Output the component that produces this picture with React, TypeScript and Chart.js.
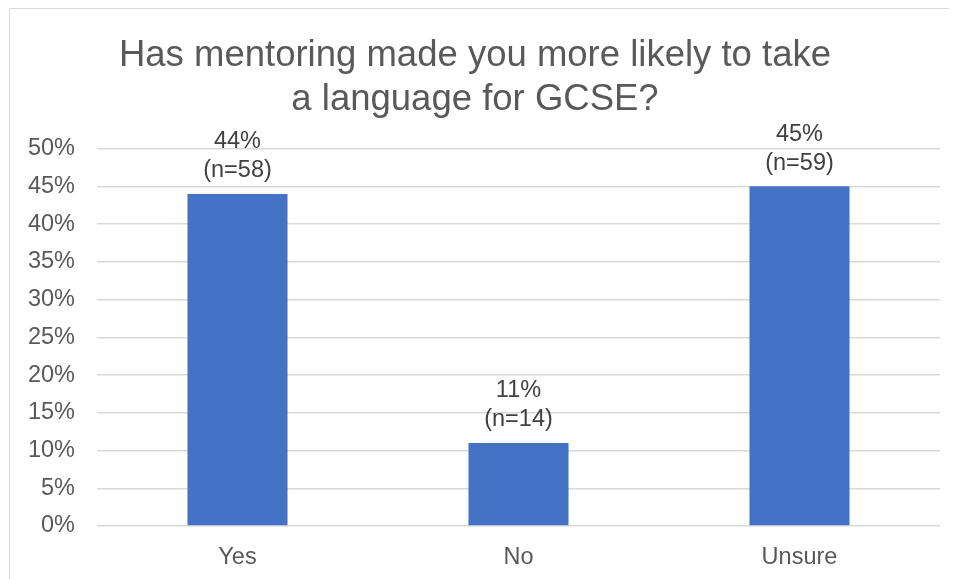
import React, { useEffect, useRef } from "react";
import { Chart, registerables } from "chart.js";

Chart.register(...registerables);

const categories = ["Yes", "No", "Unsure"];
const percentages = [44, 11, 45];
const counts = [58, 14, 59];
const yTicks = [0, 5, 10, 15, 20, 25, 30, 35, 40, 45, 50];
const titleLines = ["Has mentoring made you more likely to take", "a language for GCSE?"];

const FONT = "'Liberation Sans', Arial, sans-serif";

// Two-line value labels above each bar: "44%" then "(n=58)"
const barLabels = {
  id: "barLabels",
  afterDatasetsDraw(chart: any) {
    const ctx = chart.ctx;
    const meta = chart.getDatasetMeta(0);
    ctx.save();
    ctx.font = `23.5px ${FONT}`;
    ctx.fillStyle = "#404040";
    ctx.textAlign = "center";
    ctx.textBaseline = "middle";
    meta.data.forEach((bar: any, i: number) => {
      ctx.fillText(`${percentages[i]}%`, bar.x, bar.y - 52);
      ctx.fillText(`(n=${counts[i]})`, bar.x, bar.y - 23);
    });
    ctx.restore();
  },
};

export default function App() {
  const ref = useRef<HTMLCanvasElement>(null);

  useEffect(() => {
    if (!ref.current) return;
    const chart = new Chart(ref.current, {
      type: "bar",
      data: {
        labels: categories,
        datasets: [
          {
            data: percentages,
            backgroundColor: "#4472C4",
            barPercentage: 0.356,
            categoryPercentage: 1,
          },
        ],
      },
      options: {
        animation: false,
        responsive: false,
        layout: { padding: { left: 0, right: 17, top: 0, bottom: 0 } },
        plugins: {
          legend: { display: false },
          tooltip: { enabled: false },
          title: {
            display: true,
            text: titleLines,
            color: "#595959",
            font: { family: FONT, size: 36.5, weight: "normal", lineHeight: 1.2 },
            padding: { top: 25, bottom: 27 },
          },
        },
        scales: {
          x: {
            grid: { display: false },
            border: { display: false },
            ticks: {
              color: "#595959",
              font: { family: FONT, size: 23.5 },
              padding: 9,
            },
            afterFit(scale: any) {
              scale.height = 53;
            },
          },
          y: {
            min: 0,
            max: 50,
            afterBuildTicks(scale: any) {
              scale.ticks = yTicks.map((v) => ({ value: v }));
            },
            grid: { color: "#d9d9d9", lineWidth: 1.5, drawTicks: false },
            border: { display: false },
            ticks: {
              color: "#595959",
              font: { family: FONT, size: 23.5 },
              padding: 22,
              callback: (v: any) => `${v}%`,
            },
            afterFit(scale: any) {
              scale.width = 87;
            },
          },
        },
      },
      plugins: [barLabels],
    });
    return () => chart.destroy();
  }, []);

  return (
    <div
      style={{
        position: "relative",
        marginLeft: 1,
        width: 948,
        height: 571,
        borderTop: "1.5px solid #d9d9d9",
        borderLeft: "1.5px solid #d9d9d9",
        background: "#fff",
      }}
    >
      <canvas ref={ref} width={947} height={570} style={{ display: "block" }} />
    </div>
  );
}
